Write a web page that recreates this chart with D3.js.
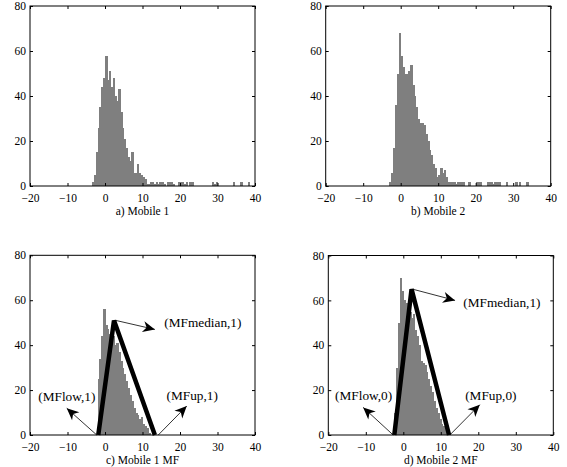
<!DOCTYPE html>
<html>
<head>
<meta charset="utf-8">
<script src="https://cdn.jsdelivr.net/npm/d3@7"></script>
<style>
  body { margin: 0; background: #fff; }
  text { font-family: "Liberation Serif", "Times New Roman", serif; fill: #000; }
</style>
</head>
<body>
<svg id="chart" width="567" height="467"></svg>
<script>
const binWidth = 0.5
const xTicks = [-20, -10, 0, 10, 20, 30, 40]
const yTicks = [0, 20, 40, 60, 80]

// histogram counts, one value per 0.5 wide bin starting at *Start
const mobile1Start = -3.5
const mobile1Counts = [2, 5, 15, 26, 35, 44, 48, 58, 47, 51, 44, 48, 40, 38, 43, 33, 26, 21, 17, 13, 11, 15, 6, 6, 10, 6, 5, 4, 3, 1, 1, 2]
const mobile1Tail = [[12.5, 2], [13, 1], [13.5, 2], [14, 1], [14.5, 2], [15, 2], [15.5, 1], [16.5, 2], [17, 2], [17.5, 2], [18, 1],
    [19.5, 2], [20, 2], [20.5, 2], [21, 1], [21.5, 2], [22.5, 2], [23, 2], [28.5, 2], [29, 1], [29.5, 2], [34, 2], [36, 2], [38, 2]]

const mobile2Start = -3
const mobile2Counts = [2, 6, 17, 36, 50, 68, 58, 53, 50, 50, 51, 54, 45, 40, 35, 30, 28, 28, 27, 23, 20, 16, 14, 10, 8, 4, 5, 8, 6, 7, 4, 2]
const mobile2Tail = [[13, 2], [13.5, 2], [14, 2], [14.5, 1], [15, 2], [15.5, 2], [16, 2], [16.5, 2], [18, 2], [20, 2], [20.5, 2], [21, 2],
    [23, 2], [23.5, 2], [24, 2], [24.5, 1], [25, 2], [25.5, 2], [26, 2], [28, 2], [30.5, 2], [31.5, 2], [33.5, 2]]

const mobile1MFStart = -2
const mobile1MFCounts = [25, 34, 44, 56, 49, 47, 45, 43, 44, 40, 41, 37, 33, 30, 27, 24, 21, 18, 15, 12, 10, 9, 7, 8, 5, 4, 3, 1]

const mobile2MFStart = -2.5
const mobile2MFCounts = [10, 30, 50, 70, 64, 60, 59, 56, 55, 52, 54, 47, 44, 40, 33, 32, 31, 28, 25, 22, 19, 15, 12, 10, 7, 5, 4, 3, 2, 1]

// membership functions: [low, median, up] with peak height
const mf1 = [[-1.8, 0], [2.4, 51], [13.3, 0]]
const mf2 = [[-2.4, 0], [2.2, 65], [12.2, 0]]

// annotations: from, to, label, label anchor point
const notes1 = [
    { from: [2.9, 51], to: [13.3, 47], label: '(MFmedian,1)', at: [15.8, 50] },
    { from: [-2.2, 0], to: [-10.2, 11.9], label: '(MFlow,1)', at: [-17.8, 17] },
    { from: [14.2, 0], to: [21.8, 12.9], label: '(MFup,1)', at: [16.4, 17.8] }
]
const notes2 = [
    { from: [2.7, 64.9], to: [13.8, 60], label: '(MFmedian,1)', at: [16, 59.2] },
    { from: [-2.7, 0], to: [-10.7, 12.3], label: '(MFlow,0)', at: [-18.2, 17.5] },
    { from: [12.4, 0], to: [20.4, 13.5], label: '(MFup,0)', at: [16.5, 17.5] }
]

function toBins(start, counts, tail) {
    let bins = counts.map((c, i) => ({ x0: start + i * binWidth, count: c }))
    if (tail) tail.forEach(t => bins.push({ x0: t[0], count: t[1] }))
    return bins
}

const panels = [
    { left: 30, top: 6, bottom: 186, width: 225, caption: 'a) Mobile 1', bins: toBins(mobile1Start, mobile1Counts, mobile1Tail) },
    { left: 325.7, top: 6, bottom: 186, width: 225, caption: 'b) Mobile 2', bins: toBins(mobile2Start, mobile2Counts, mobile2Tail) },
    { left: 30, top: 255.3, bottom: 435, width: 225, caption: 'c) Mobile 1 MF', bins: toBins(mobile1MFStart, mobile1MFCounts), mf: mf1, notes: notes1 },
    { left: 328.3, top: 255.5, bottom: 435, width: 225, caption: 'd) Mobile 2 MF', bins: toBins(mobile2MFStart, mobile2MFCounts), mf: mf2, notes: notes2 }
]

const svg = d3.select('#chart')
const fmt = d => d < 0 ? '\u2212' + Math.abs(d) : '' + d

svg.append('defs').append('marker')
    .attr('id', 'arrow')
    .attr('markerUnits', 'userSpaceOnUse')
    .attr('markerWidth', 16).attr('markerHeight', 16)
    .attr('refX', 0).attr('refY', 0)
    .attr('viewBox', '-14 -8 16 16')
    .attr('orient', 'auto')
    .append('path')
    .attr('d', 'M0,0 L-12,-5.5 L-8.5,0 L-12,5.5 Z')
    .attr('fill', '#000')

panels.forEach(p => {
    const x = d3.scaleLinear().domain([-20, 40]).range([p.left, p.left + p.width])
    const y = d3.scaleLinear().domain([0, 80]).range([p.bottom, p.top])
    const g = svg.append('g')

    // bars overlap a little so no white seams show between neighbours
    g.append('g').attr('shape-rendering', 'crispEdges')
        .selectAll('rect')
        .data(p.bins)
        .join('rect')
        .attr('x', d => x(d.x0))
        .attr('y', d => y(d.count))
        .attr('width', d => x(d.x0 + binWidth) - x(d.x0) + 0.7)
        .attr('height', d => y(0) - y(d.count))
        .attr('fill', '#7f7f7f')

    // axes, ticks pointing inwards
    const axes = [
        [d3.axisBottom(x), `translate(0,${p.bottom})`, true],
        [d3.axisTop(x), `translate(0,${p.top})`, false],
        [d3.axisLeft(y), `translate(${p.left},0)`, true],
        [d3.axisRight(y), `translate(${p.left + p.width},0)`, false]
    ]
    axes.forEach(([ax, tr, labels], i) => {
        ax.tickValues(i < 2 ? xTicks : yTicks)
            .tickSizeInner(-3).tickSizeOuter(0)
            .tickPadding(i < 2 ? 8 : 4)
            .tickFormat(labels ? fmt : '')
        const a = g.append('g').attr('transform', tr).call(ax)
        a.attr('font-family', null)
        a.select('.domain').remove()
        a.selectAll('line').attr('stroke', '#000')
        a.selectAll('text').style('font-size', '11.5px')
    })

    g.append('rect')
        .attr('x', p.left).attr('y', p.top)
        .attr('width', p.width).attr('height', p.bottom - p.top)
        .attr('fill', 'none').attr('stroke', '#000').attr('stroke-width', 1)

    if (p.mf) {
        g.append('path')
            .datum(p.mf)
            .attr('d', d3.line().x(d => x(d[0])).y(d => y(d[1])))
            .attr('fill', 'none')
            .attr('stroke', '#000')
            .attr('stroke-width', 4.5)
    }

    if (p.notes) {
        p.notes.forEach(n => {
            g.append('line')
                .attr('x1', x(n.from[0])).attr('y1', y(n.from[1]))
                .attr('x2', x(n.to[0])).attr('y2', y(n.to[1]))
                .attr('stroke', '#000').attr('stroke-width', 0.8)
                .attr('marker-end', 'url(#arrow)')
            g.append('text')
                .attr('x', x(n.at[0])).attr('y', y(n.at[1]))
                .attr('dominant-baseline', 'central')
                .style('font-size', '13.3px')
                .text(n.label)
        })
    }

    g.append('text')
        .attr('x', p.left + p.width / 2)
        .attr('y', p.bottom + 29.2)
        .attr('text-anchor', 'middle')
        .style('font-size', '11.5px')
        .text(p.caption)
})
</script>
</body>
</html>
